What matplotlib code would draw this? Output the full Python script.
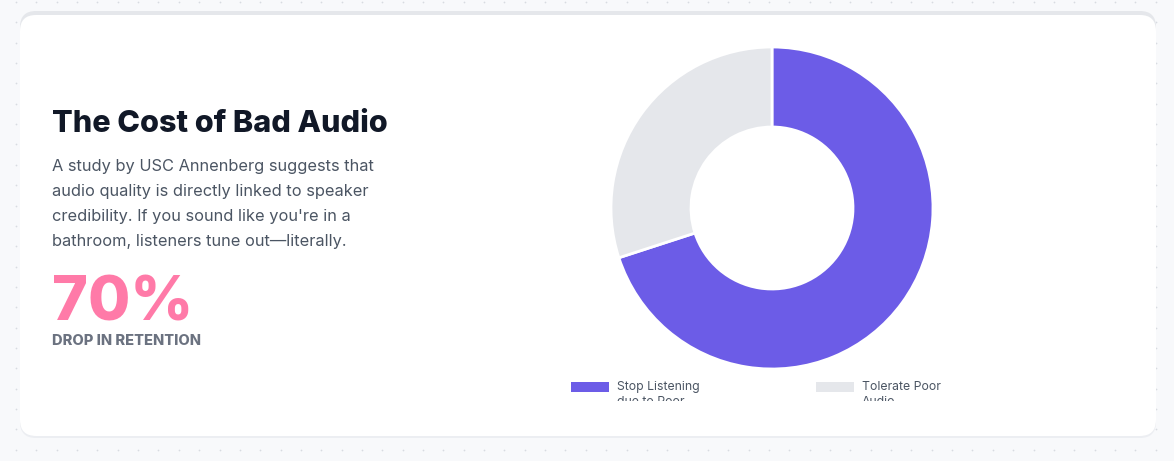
import numpy as np
import matplotlib.pyplot as plt
from matplotlib.patches import FancyBboxPatch, Rectangle
from matplotlib.transforms import Bbox, TransformedBbox

# ---- data ----
labels = ["Stop Listening due to Poor Audio", "Tolerate Poor Audio"]
legend_lines = ["Stop Listening\ndue to Poor\nAudio", "Tolerate Poor\nAudio"]
values = [70, 30]
colors = ["#6c5ce7", "#e5e7eb"]

title = "The Cost of Bad Audio"
body = ("A study by USC Annenberg suggests that\n"
        "audio quality is directly linked to speaker\n"
        "credibility. If you sound like you're in a\n"
        "bathroom, listeners tune out\u2014literally.")
stat_value = "70%"
stat_label = "DROP IN RETENTION"

plt.rcParams['font.family'] = ['Inter', 'DejaVu Sans']

W, H = 1174, 461
fig = plt.figure(figsize=(W / 100, H / 100), dpi=100)
fig.patch.set_facecolor("#f8f9fb")

# background canvas in pixel coordinates
bg = fig.add_axes([0, 0, 1, 1])
bg.set_xlim(0, W)
bg.set_ylim(H, 0)
bg.axis("off")

# dotted grid
gx = np.arange(16, W, 20.35)
gy = np.arange(2, H, 20.35)
xx, yy = np.meshgrid(gx, gy)
bg.scatter(xx.ravel(), yy.ravel(), s=1.6, color="#d8dbe1", linewidths=0, zorder=0)

# card: shadow, top border, body
bg.add_patch(FancyBboxPatch((20, 13), 1136, 425, boxstyle="round,pad=0,rounding_size=16",
                            fc="#eceef2", ec="none", zorder=1))
bg.add_patch(FancyBboxPatch((20, 11), 1136, 425, boxstyle="round,pad=0,rounding_size=16",
                            fc="#e5e7eb", ec="none", zorder=2))
bg.add_patch(FancyBboxPatch((20, 15), 1136, 421, boxstyle="round,pad=0,rounding_size=16",
                            fc="white", ec="none", zorder=3))

# left text block
bg.text(52, 132, title, fontsize=22, fontweight=800, color="#111827",
        va="baseline", ha="left", zorder=5)
bg.text(52, 159, body, fontsize=11.8, color="#4b5563", va="top", ha="left",
        linespacing=1.82, zorder=5)
bg.text(52, 320, stat_value, fontsize=44, fontweight=800, color="#ff7aa8",
        va="baseline", ha="left", zorder=5)
bg.text(52, 345, stat_label, fontsize=10.5, fontweight=800, color="#6b7280",
        va="baseline", ha="left", zorder=5)

# donut chart
cx, cy, r = 772, 208, 161
pax = fig.add_axes([(cx - r) / W, (H - cy - r) / H, 2 * r / W, 2 * r / H])
pax.pie(values, colors=colors, startangle=90, counterclock=False, radius=1,
        wedgeprops=dict(width=1 - 81 / 161, edgecolor="white", linewidth=2))
pax.set_xlim(-1, 1)
pax.set_ylim(-1, 1)
pax.axis("off")

# legend (clipped like the reference)
clip = TransformedBbox(Bbox([[0, 370], [W, 401]]), bg.transData)
leg_x = [571, 816]
for i, (lab, col) in enumerate(zip(legend_lines, colors)):
    bg.add_patch(Rectangle((leg_x[i], 382), 38, 10, fc=col, ec="none", zorder=5))
    t = bg.text(leg_x[i] + 46, 381, lab, fontsize=8.8, color="#4b5563",
                va="top", ha="left", linespacing=1.35, zorder=5)
    t.set_clip_box(clip)
    t.set_clip_on(True)

fig.savefig("out.png", dpi=100, facecolor=fig.get_facecolor())
